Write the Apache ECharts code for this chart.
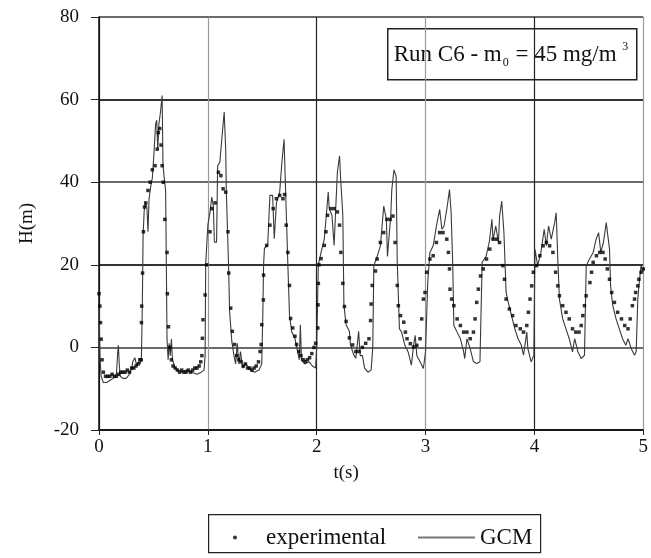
<!DOCTYPE html>
<html>
<head>
<meta charset="utf-8">
<script src="https://cdn.jsdelivr.net/npm/echarts@6/dist/echarts.min.js"></script>
<style>
html,body{margin:0;padding:0;background:#fff;}
#chart{width:651px;height:558px;}
</style>
</head>
<body>
<div id="chart"></div>
<script>
// GCM model output: [t (s), H (m)]
const gcmData = [
[0.000,10],[0.005,3],[0.010,-3],[0.020,-7],[0.040,-8.5],[0.070,-8.5],[0.100,-8],[0.130,-7.5],[0.160,-6.5],[0.170,-2],[0.178,0.5],[0.186,-4],[0.195,-7],[0.220,-7.5],[0.250,-7.5],[0.280,-6.5],[0.300,-5],[0.310,-3.5],[0.330,-2.5],[0.345,-4.5],[0.360,-3.5],[0.380,-4],[0.390,-2],[0.398,10],[0.405,27],[0.415,33],[0.425,35],[0.440,34],[0.450,28],[0.460,36],[0.475,39],[0.490,41],[0.505,47],[0.520,54],[0.530,55],[0.540,48],[0.550,54],[0.565,57],[0.580,61],[0.588,44],[0.600,41],[0.612,38],[0.618,22],[0.625,2],[0.635,-3],[0.645,1],[0.655,-2],[0.665,2],[0.675,-3],[0.700,-5],[0.730,-5.5],[0.760,-6],[0.800,-5.5],[0.850,-6],[0.900,-6.5],[0.940,-6],[0.965,-5.5],[0.975,-2],
[0.980,20],[1.000,29.6],[1.020,32.8],[1.036,36.4],[1.050,34.4],[1.060,25.5],[1.080,25.5],[1.090,44],[1.110,44.8],[1.128,50.4],[1.150,57],[1.164,48],[1.170,37.6],[1.190,20],[1.200,8.7],[1.220,1.5],[1.240,-2],[1.255,-4],[1.270,1],[1.285,-4],[1.300,-1],[1.320,-5],[1.350,-4],[1.390,-5.5],[1.430,-6],[1.470,-5.5],[1.495,-4],
[1.505,8],[1.512,20],[1.520,24],[1.550,24.7],[1.570,36.8],[1.595,36.8],[1.610,26.3],[1.630,35],[1.660,37.6],[1.680,44.8],[1.700,50.4],[1.712,40],[1.735,20],[1.750,7.9],[1.770,3.8],[1.800,2.2],[1.825,-1],[1.840,-3],[1.850,5.5],[1.860,-3],[1.890,-4],[1.930,-3.5],[1.960,-4.5],[1.990,-5],
[2.000,0],[2.015,20],[2.040,23],[2.070,26.3],[2.106,37.6],[2.115,33.6],[2.140,32],[2.160,24.7],[2.176,34.4],[2.190,42.4],[2.210,46.4],[2.220,40.8],[2.240,32],[2.250,10.3],[2.270,5.5],[2.300,3.9],[2.310,0.6],[2.340,-1.8],[2.360,-2.6],[2.385,3.9],[2.400,-2],[2.420,-2],[2.440,-5],[2.470,-6],[2.500,-5.5],
[2.515,0],[2.525,19.8],[2.555,22],[2.585,24.6],[2.616,34.2],[2.640,31],[2.650,22],[2.680,31.8],[2.690,38.2],[2.710,43],[2.730,41.4],[2.740,20.6],[2.760,4.5],[2.780,3.7],[2.810,0.5],[2.840,-1.1],[2.870,-4.3],[2.890,0.5],[2.905,2.9],[2.920,-2],[2.950,-3.5],[2.980,-5.1],
[3.000,-1],[3.020,15.7],[3.040,23],[3.070,24.6],[3.100,29.4],[3.130,33.4],[3.150,28.6],[3.170,29.4],[3.195,33.4],[3.220,38.2],[3.235,32.6],[3.250,19.8],[3.260,5.3],[3.290,3.7],[3.320,2.1],[3.350,-1.1],[3.360,-2.7],[3.380,2.1],[3.410,-0.3],[3.440,-3.5],[3.470,-3.9],[3.500,-3.5],
[3.520,20.6],[3.555,22],[3.585,25.4],[3.610,31],[3.620,26],[3.645,29.4],[3.670,25.4],[3.680,31.8],[3.700,35.4],[3.720,27.8],[3.740,13.3],[3.760,10.9],[3.790,7.7],[3.820,4.5],[3.850,2.1],[3.880,0.5],[3.900,-1.9],[3.930,3.7],[3.940,-0.3],[3.970,-3.5],[3.995,-1.9],
[4.005,23.8],[4.030,19.8],[4.060,23],[4.090,28.6],[4.110,24.6],[4.130,29.4],[4.155,26.2],[4.186,30.2],[4.200,32.6],[4.216,20.6],[4.230,11.7],[4.260,6.9],[4.290,4.5],[4.320,2.1],[4.350,-1.1],[4.370,2.1],[4.400,-1.1],[4.430,-2.7],[4.460,-1.9],
[4.476,19.8],[4.506,21.4],[4.540,23],[4.567,26.2],[4.590,27.8],[4.610,23],[4.634,25.4],[4.660,30.2],[4.670,30.6],[4.690,23.8],[4.700,14.9],[4.720,10.1],[4.750,6.9],[4.780,4.5],[4.810,2.1],[4.840,0.5],[4.860,2.1],[4.890,-0.3],[4.920,-1.9],[4.935,-1],[4.950,11.7],[4.960,14.9],[4.980,19.8],[5.000,18.2]
];

// Experimental measurements: [t (s), H (m)]
const experimentalData = [
[0,13],[0.008,10],[0.014,6],[0.02,2],[0.028,-3],[0.04,-6],[0.06,-7],[0.08,-7],[0.10,-7],[0.12,-6.5],[0.14,-7],[0.16,-7],[0.18,-6.5],[0.20,-6],[0.22,-6],[0.24,-6],[0.26,-5.5],[0.28,-6],[0.30,-5],[0.32,-5],[0.34,-4.5],[0.36,-4],[0.375,-3],[0.388,-3],[0.39,6],[0.392,10],[0.40,18],[0.408,28],[0.418,34],[0.43,35],[0.45,38],[0.47,40],[0.49,43],[0.515,44],[0.535,48],[0.545,52],[0.558,53],[0.57,49],[0.58,44],[0.59,40],[0.605,31],[0.625,23],[0.628,13],[0.638,5],[0.65,0],[0.665,-3],[0.68,-4.5],[0.70,-5],[0.72,-5.5],[0.74,-6],[0.76,-5.5],[0.78,-6],[0.80,-6],[0.82,-5.5],[0.84,-6],[0.86,-5.5],[0.88,-5],[0.90,-5],[0.92,-4.5],[0.935,-3.5],[0.945,-2],[0.95,2.2],[0.955,6.7],[0.975,12.7],[0.99,20],
[1.02,28],[1.036,33.6],[1.067,35],[1.097,42.4],[1.12,41.6],[1.14,38.4],[1.164,37.6],[1.185,28],[1.192,18],[1.21,9.5],[1.225,3.9],[1.245,0.7],[1.265,-2],[1.285,-3],[1.305,-3.5],[1.325,-4.5],[1.345,-4],[1.365,-5],[1.385,-5],[1.405,-5.5],[1.425,-5],[1.445,-4.5],[1.465,-3.5],[1.48,-1],[1.49,0.7],[1.495,5.5],
[1.51,11.5],[1.512,17.5],[1.54,24.7],[1.57,29.6],[1.60,33.6],[1.63,36],[1.66,36.8],[1.69,36],[1.705,37],[1.72,29.6],[1.735,23],[1.75,15],[1.76,7],[1.78,4.7],[1.80,2.7],[1.815,0.7],[1.835,-1],[1.855,-2],[1.875,-3],[1.895,-3.4],[1.915,-3],[1.935,-2.5],[1.955,-1.5],[1.975,0],[1.99,1],
[2.01,4.7],[2.012,10.3],[2.015,15.5],[2.02,20],[2.04,21.5],[2.07,24.7],[2.085,28],[2.10,32],[2.13,33.6],[2.16,33.6],[2.19,32.8],[2.21,29.6],[2.222,23],[2.24,15.5],[2.255,9.9],[2.27,6.3],[2.30,2.3],[2.33,0.6],[2.36,-1],[2.39,-1],[2.42,0],[2.45,1],[2.48,2.1],[2.495,6.5],
[2.50,10.5],[2.51,15],[2.54,18.5],[2.555,21.4],[2.585,25.4],[2.615,27.8],[2.645,31],[2.675,31],[2.70,31.8],[2.72,25.4],[2.74,15],[2.75,10.1],[2.77,7.7],[2.80,6.1],[2.815,3.7],[2.83,2.1],[2.86,0.9],[2.89,0.1],[2.92,0.5],[2.95,2.1],[2.965,6.9],[2.98,11.7],[2.995,13.3],
[3.01,18.2],[3.04,21.4],[3.07,22.2],[3.10,25.4],[3.13,27.8],[3.16,27.8],[3.195,26.2],[3.21,23],[3.22,19],[3.225,14.1],[3.24,11.7],[3.26,10.1],[3.29,6.9],[3.32,5.3],[3.35,3.7],[3.38,3.7],[3.41,2.1],[3.44,3.7],[3.455,6.9],[3.47,10.9],[3.485,14.1],
[3.505,17.3],[3.53,19],[3.56,21.4],[3.59,23.8],[3.62,26.2],[3.65,26.2],[3.68,25.4],[3.71,19.8],[3.725,16.5],[3.74,11.7],[3.77,9.3],[3.80,7.7],[3.83,5.3],[3.87,4.5],[3.90,3.7],[3.93,5.3],[3.945,8.5],[3.96,11.7],[3.975,14.9],[3.99,18.2],
[4.02,19.8],[4.05,22.2],[4.08,24.6],[4.11,25.4],[4.14,24.6],[4.17,23],[4.195,18.2],[4.215,14.9],[4.23,12.5],[4.26,10.1],[4.29,8.5],[4.32,6.9],[4.35,4.5],[4.38,3.7],[4.41,3.7],[4.43,5.3],[4.445,7.7],[4.46,10.1],[4.475,12.5],
[4.51,15.7],[4.525,18.2],[4.54,20.6],[4.57,22.2],[4.60,23],[4.63,23],[4.65,21.4],[4.67,19],[4.69,16.5],[4.71,13.3],[4.735,10.9],[4.765,8.5],[4.80,6.9],[4.83,5.3],[4.86,4.5],[4.88,6.9],[4.90,10.1],[4.92,11.7],[4.93,13.3],[4.95,14.9],[4.96,16.5],[4.98,18.2],[5.0,19]
];

const seriesNames = ['experimental', 'GCM'];
const xAxisTitle = 't(s)';
const yAxisTitle = 'H(m)';

const serif = 'Liberation Serif';
const chart = echarts.init(document.getElementById('chart'), null, {renderer: 'canvas'});

chart.setOption({
  backgroundColor: '#ffffff',
  animation: false,
  textStyle: {fontFamily: serif, color: '#111'},
  grid: {left: 99, right: 4, top: 17, bottom: 128, containLabel: false},
  xAxis: {
    type: 'value', min: 0, max: 5, interval: 1,
    name: xAxisTitle, nameLocation: 'middle', nameGap: 34,
    nameTextStyle: {fontFamily: serif, fontSize: 19, color: '#111', padding: [0, 50, 0, 0]},
    axisLine: {show: true, onZero: false, lineStyle: {color: '#111', width: 1.5}},
    axisTick: {show: true, length: 5, lineStyle: {color: '#222'}},
    axisLabel: {fontFamily: serif, fontSize: 19, color: '#111', margin: 8},
    splitLine: {show: true, lineStyle: {color: ['#222', '#9a9a9a'], width: 1.2}}
  },
  yAxis: {
    type: 'value', min: -20, max: 80, interval: 20,
    name: yAxisTitle, nameLocation: 'middle', nameGap: 62, nameRotate: 90,
    nameTextStyle: {fontFamily: serif, fontSize: 19, color: '#111'},
    axisLine: {show: true, onZero: false, lineStyle: {color: '#111', width: 1.5}},
    axisTick: {show: true, length: 8, lineStyle: {color: '#222'}},
    axisLabel: {fontFamily: serif, fontSize: 19, color: '#111', margin: 20},
    splitLine: {show: true, lineStyle: {color: ['#333', '#6a6a6a'], width: 1.8}}
  },
  legend: [
    {
      data: [{name: seriesNames[0], icon: 'circle'}],
      left: 228, top: 521, itemWidth: 28, itemHeight: 4, itemGap: 0,
      textStyle: {fontFamily: serif, fontSize: 23, color: '#111', padding: [0, 0, 0, 12]},
      selectedMode: false
    },
    {
      data: [{name: seriesNames[1], icon: 'rect'}],
      left: 413, top: 521, itemWidth: 57, itemHeight: 2, itemGap: 0,
      textStyle: {fontFamily: serif, fontSize: 23, color: '#111'},
      selectedMode: false
    }
  ],
  graphic: [
    {
      type: 'rect', left: 208, top: 514, z: -1,
      shape: {width: 332, height: 38},
      style: {fill: '#fff', stroke: '#222', lineWidth: 1.2}
    },
    {
      type: 'group', left: 387, top: 28, z: 100,
      children: [
        {type: 'rect', shape: {x: 0, y: 0, width: 249, height: 51},
         style: {fill: '#fff', stroke: '#222', lineWidth: 1.5}},
        {type: 'text', x: 6, y: 26,
         style: {
           text: '{a|Run C6 - m}{s|0}{a| = 45 mg/m }{p|3}',
           verticalAlign: 'middle', align: 'left',
           rich: {
             a: {fontFamily: serif, fontSize: 23, fill: '#111', lineHeight: 28},
             s: {fontFamily: serif, fontSize: 12, fill: '#111', lineHeight: 28, verticalAlign: 'bottom', padding: [0, 1, 0, 1]},
             p: {fontFamily: serif, fontSize: 12, fill: '#111', lineHeight: 28, verticalAlign: 'top'}
           }
         }}
      ]
    }
  ],
  series: [
    {
      name: seriesNames[1], type: 'line', data: gcmData,
      showSymbol: false, symbol: 'none',
      lineStyle: {color: '#3a3a3a', width: 1.1},
      itemStyle: {color: '#777'},
      z: 2
    },
    {
      name: seriesNames[0], type: 'scatter', data: experimentalData,
      symbol: 'rect', symbolSize: 3.5,
      itemStyle: {color: '#000'},
      z: 3
    }
  ]
});
</script>
</body>
</html>
